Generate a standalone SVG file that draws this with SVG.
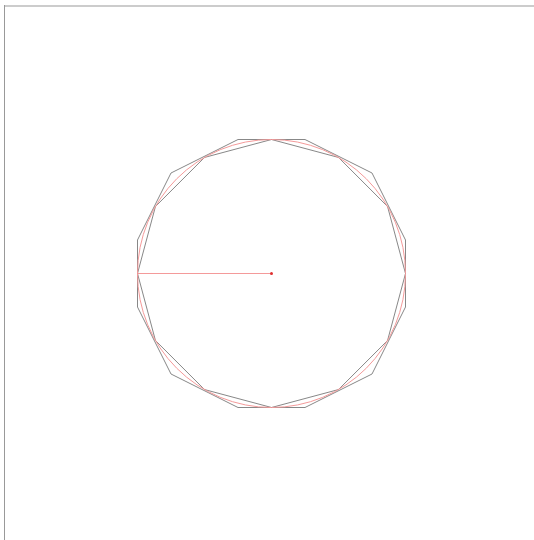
<svg xmlns="http://www.w3.org/2000/svg" width="534" height="540" viewBox="0 0 534 540">
<style>
.frame-top{stroke:#cccccc;stroke-width:2;fill:none}
.frame-left{stroke:#999999;stroke-width:1;fill:none}
.poly{fill:none;stroke:#888888;stroke-width:1}
.circ{fill:none;stroke:#f49a9a;stroke-width:1}
.radius{stroke:#f49a9a;stroke-width:1}
.dot{fill:#e03030}
</style>
<rect width="534" height="540" fill="#ffffff"/>
<g id="frame">
<line class="frame-top" x1="4" y1="6" x2="534" y2="6"/>
<line class="frame-left" x1="4.5" y1="5" x2="4.5" y2="540"/>
</g>
<g id="outer-polygon">
<polygon class="poly" points="238,139.5 305,139.5 372,173 405.5,240 405.5,307 372,374 305,407.5 238,407.5 171,374 137.5,307 137.5,240 171,173"/>
</g>
<g id="inner-polygon">
<polygon class="poly" points="405.5,273.5 387.55,340.5 338.5,389.55 271.5,407.5 204.5,389.55 155.45,340.5 137.5,273.5 155.45,206.5 204.5,157.45 271.5,139.5 338.5,157.45 387.55,206.5"/>
</g>
<g id="circle">
<circle class="circ" cx="271.5" cy="273.5" r="134"/>
</g>
<g id="connectors">
<line class="radius" x1="137.5" y1="273.5" x2="271.5" y2="273.5"/>
</g>
<g id="center">
<circle class="dot" cx="271.5" cy="273.5" r="1.5"/>
</g>
</svg>
